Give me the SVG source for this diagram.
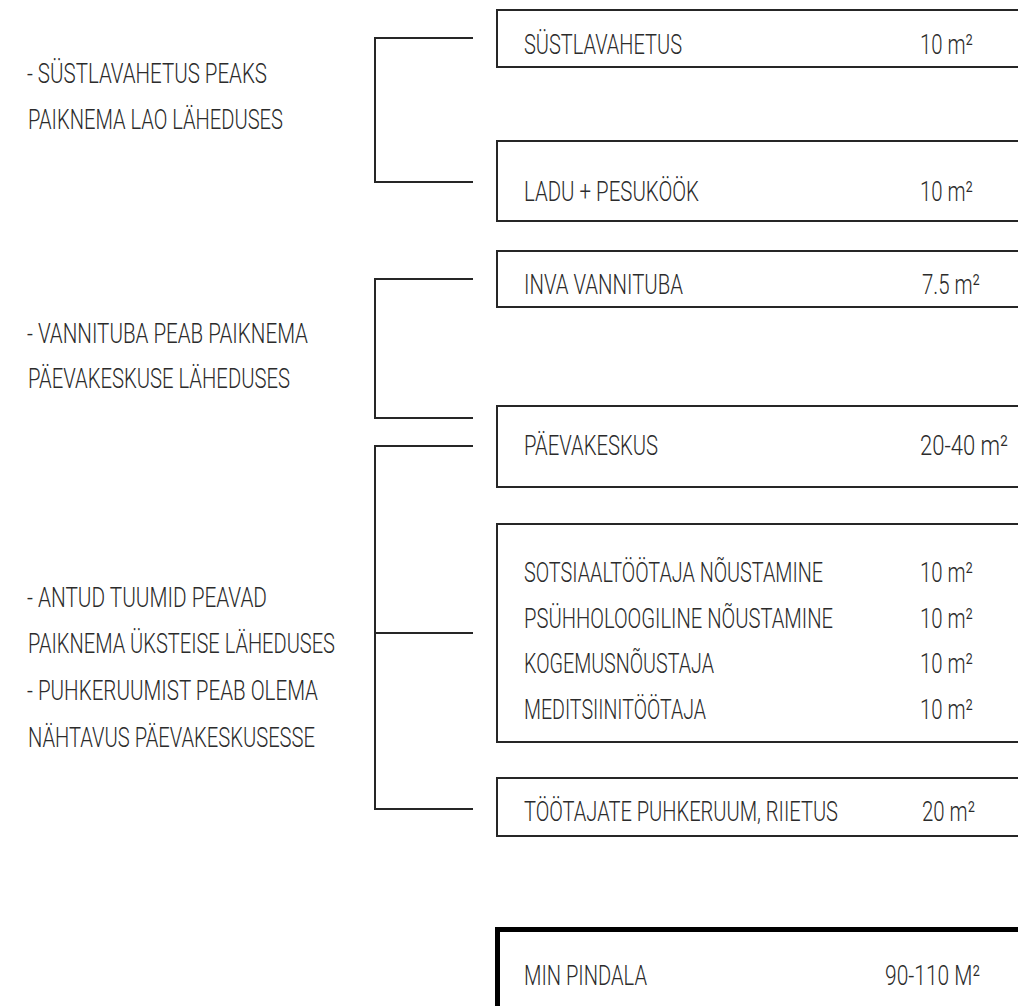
<svg xmlns="http://www.w3.org/2000/svg" width="1018" height="1006" viewBox="0 0 1018 1006">
<style>
text{font-family:Roboto,"Liberation Sans",sans-serif;font-size:28px;fill:#2b2b2b;font-weight:300}
.box{fill:#fff;stroke:#262626;stroke-width:2}
.big{fill:#fff;stroke:#000;stroke-width:5}
.conn{fill:none;stroke:#262626;stroke-width:2}
</style>
<rect width="1018" height="1006" fill="#fff"/>
<g id="connectors">
<path class="conn" d="M473,38 H375 V182 H473"/>
<path class="conn" d="M473,279 H375 V418 H473"/>
<path class="conn" d="M473,446 H375 V809 H473 M375,633 H473"/>
</g>
<g id="notes">
<g transform="scale(0.71 1)">
<text x="38.03" y="83" textLength="338.03" lengthAdjust="spacingAndGlyphs">- SÜSTLAVAHETUS PEAKS</text>
<text x="39.44" y="129" textLength="359.15" lengthAdjust="spacingAndGlyphs">PAIKNEMA LAO LÄHEDUSES</text>
<text x="38.03" y="343" textLength="395.77" lengthAdjust="spacingAndGlyphs">- VANNITUBA PEAB PAIKNEMA</text>
<text x="39.44" y="388" textLength="369.01" lengthAdjust="spacingAndGlyphs">PÄEVAKESKUSE LÄHEDUSES</text>
<text x="38.03" y="607" textLength="338.03" lengthAdjust="spacingAndGlyphs">- ANTUD TUUMID PEAVAD</text>
<text x="39.44" y="653" textLength="432.39" lengthAdjust="spacingAndGlyphs">PAIKNEMA ÜKSTEISE LÄHEDUSES</text>
<text x="38.03" y="700" textLength="409.86" lengthAdjust="spacingAndGlyphs">- PUHKERUUMIST PEAB OLEMA</text>
<text x="39.44" y="747" textLength="404.23" lengthAdjust="spacingAndGlyphs">NÄHTAVUS PÄEVAKESKUSESSE</text>
</g>
</g>
<g id="n-systlavahetus">
<rect class="box" x="497" y="10" width="540" height="57"/>
<g transform="scale(0.71 1)">
<text x="738.03" y="54" textLength="222.54" lengthAdjust="spacingAndGlyphs">SÜSTLAVAHETUS</text>
<text x="1295.77" y="54" textLength="74.65" lengthAdjust="spacingAndGlyphs">10 m²</text>
</g>
</g>
<g id="n-ladu">
<rect class="box" x="497" y="141" width="540" height="80"/>
<g transform="scale(0.71 1)">
<text x="738.03" y="201" textLength="246.48" lengthAdjust="spacingAndGlyphs">LADU + PESUKÖÖK</text>
<text x="1295.77" y="201" textLength="74.65" lengthAdjust="spacingAndGlyphs">10 m²</text>
</g>
</g>
<g id="n-inva">
<rect class="box" x="497" y="251" width="540" height="56"/>
<g transform="scale(0.71 1)">
<text x="738.03" y="294" textLength="223.94" lengthAdjust="spacingAndGlyphs">INVA VANNITUBA</text>
<text x="1298.59" y="294" textLength="81.69" lengthAdjust="spacingAndGlyphs">7.5 m²</text>
</g>
</g>
<g id="n-paevakeskus">
<rect class="box" x="497" y="406" width="540" height="81"/>
<g transform="scale(0.71 1)">
<text x="738.03" y="455" textLength="188.73" lengthAdjust="spacingAndGlyphs">PÄEVAKESKUS</text>
<text x="1295.77" y="455" textLength="123.94" lengthAdjust="spacingAndGlyphs">20-40 m²</text>
</g>
</g>
<g id="n-noustamine">
<rect class="box" x="497" y="524" width="540" height="218"/>
<g transform="scale(0.71 1)">
<text x="738.03" y="582" textLength="421.13" lengthAdjust="spacingAndGlyphs">SOTSIAALTÖÖTAJA NÕUSTAMINE</text>
<text x="1295.77" y="582" textLength="74.65" lengthAdjust="spacingAndGlyphs">10 m²</text>
<text x="738.03" y="628" textLength="435.21" lengthAdjust="spacingAndGlyphs">PSÜHHOLOOGILINE NÕUSTAMINE</text>
<text x="1295.77" y="628" textLength="74.65" lengthAdjust="spacingAndGlyphs">10 m²</text>
<text x="738.03" y="673" textLength="267.61" lengthAdjust="spacingAndGlyphs">KOGEMUSNÕUSTAJA</text>
<text x="1295.77" y="673" textLength="74.65" lengthAdjust="spacingAndGlyphs">10 m²</text>
<text x="738.03" y="719" textLength="256.34" lengthAdjust="spacingAndGlyphs">MEDITSIINITÖÖTAJA</text>
<text x="1295.77" y="719" textLength="74.65" lengthAdjust="spacingAndGlyphs">10 m²</text>
</g>
</g>
<g id="n-puhkeruum">
<rect class="box" x="497" y="778" width="540" height="58"/>
<g transform="scale(0.71 1)">
<text x="738.03" y="821" textLength="442.25" lengthAdjust="spacingAndGlyphs">TÖÖTAJATE PUHKERUUM, RIIETUS</text>
<text x="1298.59" y="821" textLength="74.65" lengthAdjust="spacingAndGlyphs">20 m²</text>
</g>
</g>
<g id="n-min">
<rect class="big" x="497.5" y="929.5" width="540" height="100"/>
<g transform="scale(0.71 1)">
<text x="738.03" y="985" textLength="173.24" lengthAdjust="spacingAndGlyphs">MIN PINDALA</text>
<text x="1246.48" y="985" textLength="133.80" lengthAdjust="spacingAndGlyphs">90-110 M²</text>
</g>
</g>
</svg>
